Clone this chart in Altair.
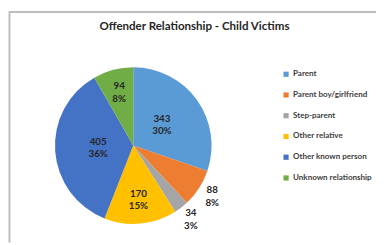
import altair as alt
import pandas as pd

categories = ["Parent", "Parent boy/girlfriend", "Step-parent",
              "Other relative", "Other known person", "Unknown relationship"]
values = [343, 88, 34, 170, 405, 94]
colors = ["#5B9BD5", "#ED7D31", "#A5A5A5", "#FFC000", "#4472C4", "#70AD47"]
title_text = "Offender Relationship - Child Victims"

df = pd.DataFrame({"category": categories, "value": values,
                   "idx": list(range(len(categories)))})

CX, CY, R = 128, 138, 80
FONT = "Lato"

base = alt.Chart(df).transform_joinaggregate(
    total="sum(value)"
).transform_window(
    cum="sum(value)", sort=[alt.SortField("idx")]
).transform_calculate(
    mid="datum.cum - datum.value / 2",
    pct="round(datum.value / datum.total * 100)",
    label="datum.value + '\\n' + datum.pct + '%'",
    lr="datum.value > 300 ? 36 : (datum.value >= 90 ? 56 : 96)",
)

color = alt.Color(
    "category:N",
    scale=alt.Scale(domain=categories, range=colors),
    sort=categories,
    legend=alt.Legend(
        title=None, orient="none", legendX=280, legendY=61,
        symbolType="square", symbolSize=28, symbolStrokeWidth=0,
        labelFont=FONT, labelFontSize=8.2, labelFontWeight="bold",
        labelColor="#404040", rowPadding=12.2, labelOffset=3,
    ),
)

pie = base.mark_arc(outerRadius=R).encode(
    theta=alt.Theta("value:Q", stack=True),
    color=color,
    order=alt.Order("idx:Q"),
    x=alt.value(CX), y=alt.value(CY),
)

labels = base.mark_text(
    lineBreak="\n", font=FONT, fontSize=10, fontWeight="bold",
    color="#262626", lineHeight=13, baseline="middle", align="center",
).encode(
    theta=alt.Theta("mid:Q", stack=None),
    radius=alt.Radius("lr:Q", scale=None),
    text="label:N",
    x=alt.value(CX), y=alt.value(CY - 6.5),
)

title = alt.Chart(pd.DataFrame({"t": [title_text]})).mark_text(
    font=FONT, fontSize=11.8, fontWeight="bold", color="#262626",
    baseline="middle", align="center",
).encode(text="t:N", x=alt.value(190.5), y=alt.value(16))

border = alt.Chart(pd.DataFrame({"a": [0]})).mark_rule(
    color="#bdbdbd", strokeWidth=2
)
border_top = border.encode(x=alt.value(1), x2=alt.value(376), y=alt.value(1.5))
border_left = border.encode(x=alt.value(1.5), y=alt.value(1), y2=alt.value(237))

chart = alt.layer(pie, labels, title, border_top, border_left).properties(
    width=376, height=237, padding=0,
    autosize=alt.AutoSizeParams(type="none"),
    background="white",
).configure_view(stroke=None)

chart.save("out.html", embed_options={"renderer": "svg", "actions": False})
